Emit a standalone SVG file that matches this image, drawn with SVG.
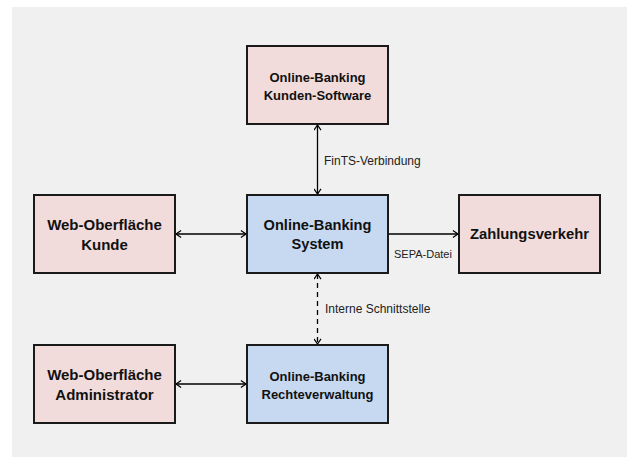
<svg xmlns="http://www.w3.org/2000/svg" width="630" height="457" viewBox="0 0 630 457">
  <defs>
    <marker id="head" viewBox="0 0 6 8" refX="5.6" refY="4" markerWidth="6" markerHeight="8" markerUnits="userSpaceOnUse" orient="auto-start-reverse">
      <path d="M0.5,0.5 L5.6,4 L0.5,7.5" fill="none" stroke="#000" stroke-width="1.2"/>
    </marker>
  </defs>
  <style>
    .box { stroke: #1a1a1a; stroke-width: 2; }
    .ext { fill: #f2dcdb; }
    .core { fill: #c6d9f1; }
    .title { font-family: "Liberation Sans", Arial, sans-serif; font-weight: bold; fill: #111; text-anchor: middle; }
    .edge { stroke: #000; stroke-width: 1.3; fill: none; }
    .dash { stroke-dasharray: 5 4; }
    .lbl { font-family: "Liberation Sans", Arial, sans-serif; font-size: 12px; fill: #222; }
    .lbl.small { font-size: 11px; }
  </style>

  <rect x="0" y="0" width="630" height="457" fill="#ffffff"/>
  <rect x="12" y="7" width="615" height="450" fill="#f0f0f0"/>

  <g id="connectors">
    <line class="edge" x1="317.5" y1="125" x2="317.5" y2="194" marker-start="url(#head)" marker-end="url(#head)"/>
    <line class="edge" x1="176" y1="234" x2="246" y2="234" marker-start="url(#head)" marker-end="url(#head)"/>
    <line class="edge" x1="389" y1="234" x2="458" y2="234" marker-end="url(#head)"/>
    <line class="edge dash" x1="317.5" y1="274" x2="317.5" y2="344" marker-start="url(#head)" marker-end="url(#head)"/>
    <line class="edge" x1="176" y1="384" x2="246" y2="384" marker-start="url(#head)" marker-end="url(#head)"/>
    <text class="lbl" x="324" y="165">FinTS-Verbindung</text>
    <text class="lbl small" x="394" y="258">SEPA-Datei</text>
    <text class="lbl" x="325" y="313">Interne Schnittstelle</text>
  </g>

  <g id="kunden-software">
    <rect class="box ext" x="247" y="46" width="141" height="78"/>
    <text class="title" x="317.5" y="82" font-size="13">Online-Banking</text>
    <text class="title" x="317.5" y="100" font-size="13">Kunden-Software</text>
  </g>

  <g id="web-kunde">
    <rect class="box ext" x="34" y="195" width="141" height="78"/>
    <text class="title" x="104.5" y="230" font-size="15">Web-Oberfläche</text>
    <text class="title" x="104.5" y="250" font-size="15">Kunde</text>
  </g>

  <g id="system">
    <rect class="box core" x="247" y="195" width="141" height="78"/>
    <text class="title" x="317.5" y="230" font-size="14.6">Online-Banking</text>
    <text class="title" x="317.5" y="249" font-size="14.6">System</text>
  </g>

  <g id="zahlungsverkehr">
    <rect class="box ext" x="459" y="195" width="141" height="78"/>
    <text class="title" x="529.5" y="239" font-size="14.8">Zahlungsverkehr</text>
  </g>

  <g id="web-admin">
    <rect class="box ext" x="34" y="345" width="141" height="78"/>
    <text class="title" x="104.5" y="380" font-size="15">Web-Oberfläche</text>
    <text class="title" x="104.5" y="400" font-size="15">Administrator</text>
  </g>

  <g id="rechteverwaltung">
    <rect class="box core" x="247" y="345" width="141" height="78"/>
    <text class="title" x="317.5" y="381" font-size="13">Online-Banking</text>
    <text class="title" x="317.5" y="399" font-size="13">Rechteverwaltung</text>
  </g>
</svg>
